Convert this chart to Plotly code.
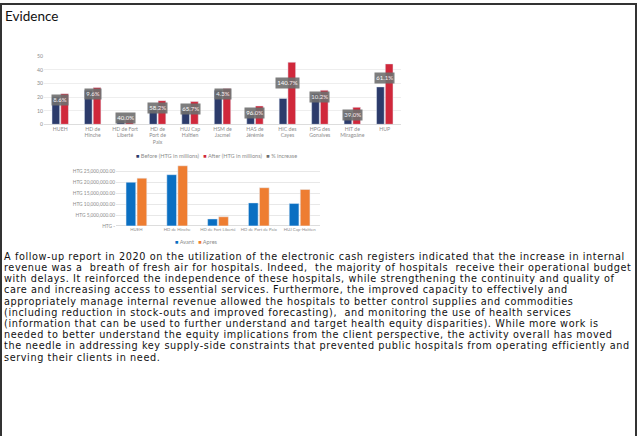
import plotly.graph_objects as go

W, H = 638, 436

# ---------------- data: chart 1 ----------------
hospitals_1 = ["HUEH", "HD de<br>Hinche", "HD de Fort<br>Liberté", "HD de<br>Port de<br>Paix",
               "HUJ Cap<br>Haïtien", "HSM de<br>Jacmel", "HAS de<br>Jérémie", "HIC des<br>Cayes",
               "HPG des<br>Gonaives", "HIT de<br>Miragoâne", "HUP"]
before_1 = [20.2, 25.0, 3.0, 11.0, 10.0, 25.0, 7.0, 19.0, 22.7, 9.0, 27.5]
after_1 = [22.5, 27.0, 4.2, 17.4, 16.7, 26.3, 13.5, 45.6, 25.0, 12.5, 44.4]
pct_increase_1 = [8.6, 9.6, 40.0, 58.2, 65.7, 4.3, 96.0, 140.7, 10.2, 39.0, 61.1]
series_1 = ["Before (HTG in millions)", "After (HTG in millions)", "% increase"]
yticks_1 = [0, 10, 20, 30, 40, 50]

# ---------------- data: chart 2 ----------------
hospitals_2 = ["HUEH", "HD de Hinche", "HD de Fort Liberté", "HD de Port de Paix", "HUJ Cap-Haitien"]
avant_2 = [20.1e6, 23.6e6, 3.2e6, 10.6e6, 10.3e6]
apres_2 = [22.0e6, 27.7e6, 4.2e6, 17.6e6, 16.8e6]
series_2 = ["Avant", "Apres"]
yticks_2 = [0, 5e6, 10e6, 15e6, 20e6, 25e6]
yticktext_2 = ["HTG -", "HTG 5,000,000.00", "HTG 10,000,000.00", "HTG 15,000,000.00",
               "HTG 20,000,000.00", "HTG 25,000,000.00"]

# ---------------- text ----------------
title = "Evidence"
paragraph = [
    "A follow-up report in 2020 on the utilization of the electronic cash registers indicated that the increase in internal",
    "revenue was a  breath of fresh air for hospitals. Indeed,  the majority of hospitals  receive their operational budget",
    "with delays. It reinforced the independence of these hospitals, while strengthening the continuity and quality of",
    "care and increasing access to essential services. Furthermore, the improved capacity to effectively and",
    "appropriately manage internal revenue allowed the hospitals to better control supplies and commodities",
    "(including reduction in stock-outs and improved forecasting),  and monitoring the use of health services",
    "(information that can be used to further understand and target health equity disparities). While more work is",
    "needed to better understand the equity implications from the client perspective, the activity overall has moved",
    "the needle in addressing key supply-side constraints that prevented public hospitals from operating efficiently and",
    "serving their clients in need.",
]

C_BEFORE, C_AFTER, C_PCT = "#2c3b6b", "#d0283b", "#6f6f6f"
C_AVANT, C_APRES = "#0a6fc2", "#ee7d31"
TXT = "#8c8c8c"
FONT_CHART = "Lato"
FONT_TEXT = "DejaVu Sans"


def px_x(x):
    return x / W


def px_y(y):
    return 1 - y / H


fig = go.Figure()

fig.add_trace(go.Bar(x=hospitals_1, y=before_1, name=series_1[0], marker_color=C_BEFORE,
                     xaxis="x", yaxis="y", showlegend=False))
fig.add_trace(go.Bar(x=hospitals_1, y=after_1, name=series_1[1], marker_color=C_AFTER,
                     xaxis="x", yaxis="y", showlegend=False))
fig.add_trace(go.Bar(x=hospitals_2, y=avant_2, name=series_2[0], marker_color=C_AVANT,
                     xaxis="x2", yaxis="y2", showlegend=False))
fig.add_trace(go.Bar(x=hospitals_2, y=apres_2, name=series_2[1], marker_color=C_APRES,
                     xaxis="x2", yaxis="y2", showlegend=False))

annotations = []
# percent-increase labels
for h, b, a, p in zip(hospitals_1, before_1, after_1, pct_increase_1):
    ly = (b + a) / 2 - 2 if a / b > 1.5 else b - 2.5
    ly = max(ly, 4.3)
    annotations.append(dict(xref="x", yref="y", x=h, y=ly, text=f"{p:.1f}%", showarrow=False,
                            bgcolor=C_PCT, opacity=0.9, borderpad=1.3,
                            font=dict(family=FONT_CHART, size=6, color="white")))

# legends
leg1 = "   ".join(f"<span style='color:{c}'>■</span> {n}" for c, n in zip([C_BEFORE, C_AFTER, C_PCT], series_1))
annotations.append(dict(xref="paper", yref="paper", x=px_x(216), y=px_y(155), text=leg1,
                        showarrow=False, xanchor="center", yanchor="middle",
                        font=dict(family=FONT_CHART, size=5.6, color=TXT)))
leg2 = "   ".join(f"<span style='color:{c}'>■</span> {n}" for c, n in zip([C_AVANT, C_APRES], series_2))
annotations.append(dict(xref="paper", yref="paper", x=px_x(196), y=px_y(242), text=leg2,
                        showarrow=False, xanchor="center", yanchor="middle",
                        font=dict(family=FONT_CHART, size=5.6, color=TXT)))

# title
annotations.append(dict(xref="paper", yref="paper", x=px_x(3), y=px_y(13), text=title,
                        showarrow=False, xanchor="left", yanchor="middle",
                        font=dict(family="Lato", size=13.5, color="#111111")))
# paragraph lines
for i, line in enumerate(paragraph):
    annotations.append(dict(xref="paper", yref="paper", x=px_x(3), y=px_y(257 + i * 11.33),
                            text=f"<span style='letter-spacing:0.6px'>{line}</span>",
                            showarrow=False, xanchor="left", yanchor="middle", borderpad=0,
                            font=dict(family=FONT_TEXT, size=9.7, color="#111111")))

fig.update_layout(
    width=W, height=H, margin=dict(l=0, r=0, t=0, b=0),
    paper_bgcolor="white", plot_bgcolor="white",
    barmode="group", bargap=0.46, bargroupgap=0.12,
    annotations=annotations,
    xaxis=dict(domain=[px_x(44), px_x(401)], showgrid=False, showline=False, ticks="",
               tickfont=dict(family=FONT_CHART, size=5.2, color=TXT), tickangle=0, fixedrange=True),
    yaxis=dict(domain=[px_y(123), px_y(54)], range=[0, 50], tickvals=yticks_1,
               showgrid=True, gridcolor="#eeeeee", gridwidth=0.8, zeroline=True, zerolinecolor="#dddddd",
               zerolinewidth=0.8, tickfont=dict(family=FONT_CHART, size=5.2, color=TXT), fixedrange=True),
    xaxis2=dict(domain=[px_x(116), px_x(320)], anchor="y2", showgrid=False, showline=False, ticks="",
                tickfont=dict(family=FONT_CHART, size=4.3, color=TXT), tickangle=0, fixedrange=True),
    yaxis2=dict(domain=[px_y(226), px_y(164.4)], anchor="x2", range=[0, 28e6], tickvals=yticks_2,
                ticktext=yticktext_2, showgrid=True, gridcolor="#e8e8e8", gridwidth=0.8,
                zeroline=True, zerolinecolor="#dddddd", zerolinewidth=0.8,
                tickfont=dict(family=FONT_CHART, size=4.8, color=TXT), fixedrange=True),
    shapes=[dict(type="rect", xref="paper", yref="paper", x0=px_x(1), x1=px_x(636), y0=-0.05, y1=px_y(1),
                 line=dict(color="#333333", width=2), fillcolor="rgba(0,0,0,0)")],
)

fig.write_html("out.html")
